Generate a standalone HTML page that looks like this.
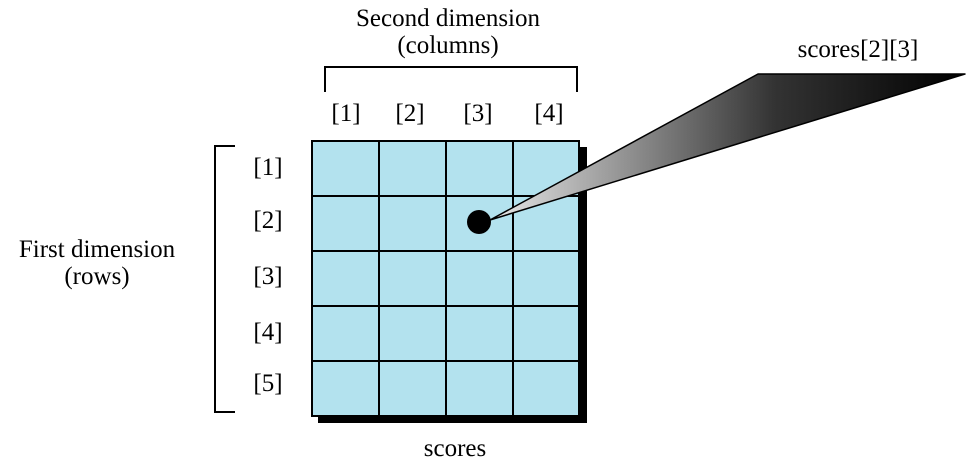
<!DOCTYPE html>
<html><head><style>html,body{margin:0;padding:0;background:#fff}</style></head><body>
<svg width="966" height="469" xmlns="http://www.w3.org/2000/svg" font-family="Liberation Serif, serif" font-size="25" fill="#000">
<defs><linearGradient id="g" x1="490" y1="0" x2="965" y2="0" gradientUnits="userSpaceOnUse"><stop offset="0" stop-color="#e8e8e8"/><stop offset="0.6" stop-color="#333"/><stop offset="1" stop-color="#000"/></linearGradient></defs>
<rect x="318" y="147" width="269" height="276" fill="#000"/>
<rect x="312" y="141" width="267" height="275" fill="#b3e2ee" stroke="#000" stroke-width="2"/>
<g stroke="#000" stroke-width="2">
<line x1="379" y1="141" x2="379" y2="416"/><line x1="446" y1="141" x2="446" y2="416"/><line x1="513" y1="141" x2="513" y2="416"/>
<line x1="312" y1="196" x2="579" y2="196"/><line x1="312" y1="251" x2="579" y2="251"/><line x1="312" y1="306" x2="579" y2="306"/><line x1="312" y1="361" x2="579" y2="361"/>
</g>
<polygon points="490,220 758,74 965,74" fill="url(#g)" stroke="#000" stroke-width="1.5" stroke-linejoin="round"/>
<circle cx="479" cy="222" r="12" fill="#000"/>
<path d="M325,92 V67 H577 V92" fill="none" stroke="#000" stroke-width="2"/>
<path d="M235,146 H215 V412 H235" fill="none" stroke="#000" stroke-width="2"/>
<text x="448" y="26" text-anchor="middle">Second dimension</text>
<text x="448" y="53" text-anchor="middle">(columns)</text>
<g text-anchor="middle"><text x="346" y="121">[1]</text><text x="410" y="121">[2]</text><text x="478" y="121">[3]</text><text x="549" y="121">[4]</text>
<text x="268" y="175">[1]</text><text x="268" y="228">[2]</text><text x="268" y="284">[3]</text><text x="268" y="340">[4]</text><text x="268" y="391">[5]</text>
<text x="97" y="257">First dimension</text><text x="97" y="284">(rows)</text>
<text x="455" y="456">scores</text><text x="858" y="57">scores[2][3]</text></g>
</svg>
</body></html>
